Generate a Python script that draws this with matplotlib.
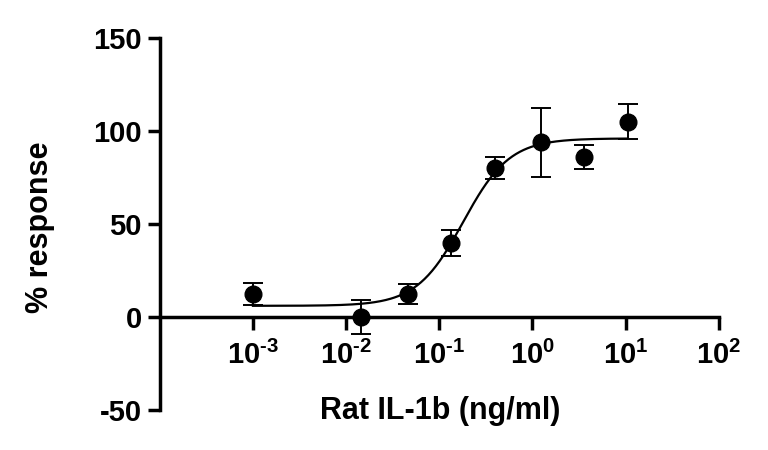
"""
Dose-response plot: % response vs Rat IL-1b concentration (log scale).
"""
import numpy as np
import matplotlib
matplotlib.use("Agg")
import matplotlib.pyplot as plt

# Data
dose = [0.001, 0.0144, 0.046, 0.135, 0.40, 1.22, 3.6, 10.5]
response = [12.5, 0.0, 12.5, 40.0, 80.0, 94.0, 86.0, 105.0]
err = [6.0, 9.0, 5.5, 7.0, 6.0, 18.5, 6.5, 9.5]

# 4PL fit parameters (bottom, top, log EC50, hill slope)
fit_bottom = 6.0
fit_top = 96.0
fit_log_ec50 = -0.745
fit_hill = 1.74
fit_range = (0.001, 10.5)

x_ticks = [1e-3, 1e-2, 1e-1, 1e0, 1e1, 1e2]
x_ticklabels = [r'$\mathbf{10^{\text{-}3}}$', r'$\mathbf{10^{\text{-}2}}$', r'$\mathbf{10^{\text{-}1}}$',
                r'$\mathbf{10^{0}}$', r'$\mathbf{10^{1}}$', r'$\mathbf{10^{2}}$']
y_ticks = [-50, 0, 50, 100, 150]

plt.rcParams['font.family'] = ['Liberation Sans', 'DejaVu Sans']
plt.rcParams['font.weight'] = 'bold'
plt.rcParams['axes.unicode_minus'] = False
plt.rcParams['mathtext.fontset'] = 'custom'
plt.rcParams['mathtext.rm'] = 'Liberation Sans:bold'
plt.rcParams['mathtext.bf'] = 'Liberation Sans:bold'

fig = plt.figure(figsize=(7.68, 4.5), dpi=100)
ax = fig.add_axes([0.208, 0.0889, 0.728, 0.8267])

# fitted curve
xs = np.logspace(np.log10(fit_range[0]), np.log10(fit_range[1]), 300)
ys = fit_bottom + (fit_top - fit_bottom) / (1 + 10 ** ((fit_log_ec50 - np.log10(xs)) * fit_hill))
ax.plot(xs, ys, color='black', lw=1.6, zorder=2)

# points with error bars
ax.errorbar(dose, response, yerr=err, fmt='o', color='black', ms=12,
            capsize=7, elinewidth=1.4, capthick=1.4, zorder=3, clip_on=False)

ax.set_xscale('log')
ax.set_xlim(1e-4, 1e2)
ax.set_ylim(-50, 150)

for side in ['top', 'right']:
    ax.spines[side].set_visible(False)
ax.spines['bottom'].set_position(('data', 0))
ax.spines['bottom'].set_linewidth(2.5)
ax.spines['left'].set_linewidth(2.5)

ax.set_xticks(x_ticks)
ax.set_xticklabels(x_ticklabels)
ax.xaxis.set_minor_locator(matplotlib.ticker.NullLocator())
ax.set_yticks(y_ticks)
ax.tick_params(axis='both', direction='out', length=9, width=2.5, labelsize=21, pad=4)
ax.tick_params(axis='x', pad=8)
for lbl in ax.get_yticklabels():
    lbl.set_fontweight('bold')

fig.text(440 / 768, 1 - 411 / 450, 'Rat IL-1b (ng/ml)', ha='center', va='center',
         fontsize=22, fontweight='bold')
fig.text(40 / 768, 1 - 227 / 450, '% response', ha='center', va='center',
         rotation=90, fontsize=22, fontweight='bold')

fig.savefig('out.png', dpi=100)
